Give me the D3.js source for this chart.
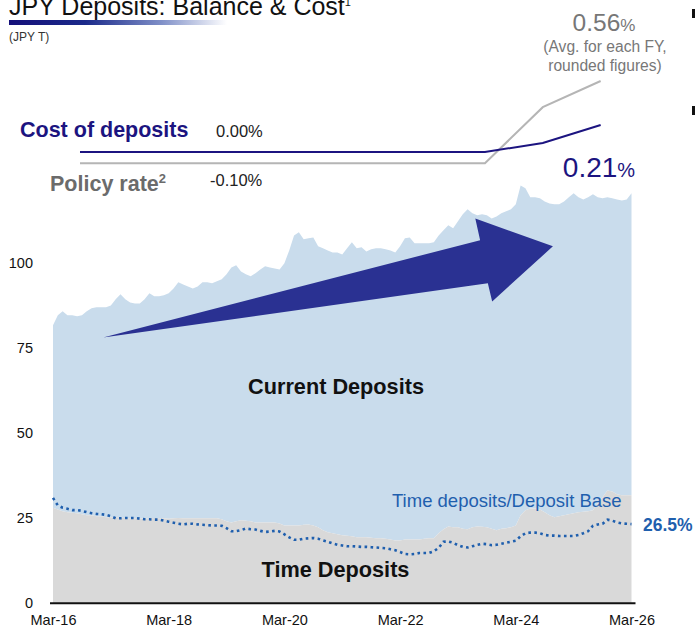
<!DOCTYPE html>
<html>
<head>
<meta charset="utf-8">
<script src="https://cdn.jsdelivr.net/npm/d3@7"></script>
<style>
  html, body { margin: 0; padding: 0; background: #fff; }
  svg { display: block; font-family: "Liberation Sans", Arial, sans-serif; }
</style>
</head>
<body>
<svg id="chart" width="695" height="628"></svg>
<script>
// Monthly balances (JPY T), Mar-16 .. Mar-26, index 0 = Mar-16
const totalDeposits = [
  81.8, 84.7, 85.9, 84.7, 84.7, 84.4, 84.7, 85.9, 86.8, 87.1, 87.1, 87.1,
  87.6, 89.4, 90.9, 89.4, 88.5, 88.2, 88.2, 89.4, 91.2, 90.3, 90.3, 90.6,
  91.2, 92.6, 94.4, 93.8, 93.2, 92.6, 93.2, 94.4, 94.4, 94.1, 94.7, 95.3,
  96.8, 98.8, 99.4, 97.6, 96.8, 96.2, 97.1, 98.2, 99.1, 98.8, 98.5, 98.2,
  100.0, 103.8, 108.2, 109.1, 107.1, 107.4, 107.6, 105.0, 104.4, 103.8, 103.2, 103.2,
  102.6, 104.4, 106.2, 104.4, 104.7, 103.5, 104.1, 104.4, 104.4, 104.1, 103.8, 103.2,
  105.0, 107.4, 107.6, 105.9, 105.9, 105.9, 105.9, 106.2, 108.2, 109.7, 111.2, 110.3,
  112.4, 114.4, 115.9, 114.7, 114.1, 114.4, 114.1, 113.2, 113.8, 114.7, 115.3, 115.9,
  117.4, 122.9, 122.1, 119.4, 119.4, 119.1, 118.2, 117.6, 117.4, 117.4, 118.2, 119.4,
  120.6, 119.4, 118.8, 119.4, 120.3, 119.4, 119.1, 119.4, 119.1, 118.8, 118.5, 118.8,
  120.6
];
const timeDeposits = [
  28.1, 27.6, 27.1, 26.8, 26.6, 26.5, 26.2, 25.9, 25.9, 25.6, 25.6, 25.3,
  25.3, 25.3, 25.3, 25.0, 25.0, 25.0, 25.0, 24.9, 25.0, 25.1, 25.0, 25.0,
  24.9, 25.0, 25.1, 25.0, 25.0, 25.0, 25.0, 25.0, 25.0, 25.0, 25.0, 24.7,
  24.1, 23.8, 24.1, 24.4, 24.3, 24.1, 23.8, 23.8, 23.8, 23.8, 23.8, 23.5,
  22.9, 22.9, 22.9, 22.9, 23.1, 23.2, 22.9, 22.4, 21.5, 20.9, 20.6, 20.3,
  20.0, 19.9, 19.7, 19.4, 19.4, 19.4, 19.3, 19.1, 19.1, 19.0, 18.8, 18.5,
  18.5, 18.8, 18.8, 18.8, 18.8, 19.0, 19.1, 19.1, 20.6, 21.8, 22.6, 22.4,
  22.4, 21.9, 21.8, 22.4, 22.6, 22.5, 22.4, 21.9, 21.5, 21.9, 22.1, 22.4,
  22.9, 25.9, 27.4, 27.9, 27.9, 27.6, 26.8, 25.9, 25.3, 25.6, 25.9, 26.2,
  26.5, 26.8, 26.9, 27.1, 27.4, 29.4, 31.2, 33.2, 32.9, 32.1, 31.8, 31.8,
  31.8
];
// Time deposits / deposit base (%)
const timeDepositRatio = [
  34.2, 32.0, 31.3, 31.0, 30.6, 30.6, 30.4, 30.0, 29.7, 29.5, 29.4, 29.2,
  28.8, 28.2, 28.2, 28.3, 28.3, 28.3, 28.1, 27.9, 27.9, 27.8, 27.8, 27.5,
  27.2, 26.9, 26.6, 26.4, 26.6, 26.6, 26.4, 26.3, 26.2, 26.1, 26.1, 26.0,
  25.3, 24.4, 24.4, 24.7, 25.2, 25.0, 24.9, 24.5, 24.2, 24.3, 24.5, 24.3,
  23.5, 22.6, 21.9, 21.9, 22.2, 22.3, 22.4, 22.2, 21.7, 21.3, 20.8, 20.4,
  20.2, 20.0, 20.0, 19.9, 19.8, 19.8, 19.7, 19.6, 19.5, 19.4, 19.1, 18.8,
  18.3, 17.7, 17.6, 17.7, 18.0, 18.0, 18.0, 18.5, 19.5, 21.3, 21.4, 21.0,
  20.3, 19.8, 19.6, 20.0, 20.4, 20.7, 20.6, 20.3, 20.4, 20.7, 21.0, 21.3,
  21.6, 22.9, 23.8, 24.0, 24.0, 23.8, 23.3, 23.1, 23.1, 23.0, 23.0, 23.0,
  23.0, 23.3, 23.8, 24.4, 26.0, 26.4, 26.6, 27.8, 27.5, 27.0, 26.7, 26.6,
  26.5
];

// Fiscal-year averages (%)
const fiscalYears = [2016, 2017, 2018, 2019, 2020, 2021, 2022, 2023, 2024, 2025];
const costOfDeposits = [0.00, 0.00, 0.00, 0.00, 0.00, 0.00, 0.00, 0.00, 0.07, 0.21];
const policyRate = [-0.10, -0.10, -0.10, -0.10, -0.10, -0.10, -0.10, -0.10, 0.35, 0.56];

const xTickMonths = [0, 24, 48, 72, 96, 120];
const xTickLabels = ["Mar-16", "Mar-18", "Mar-20", "Mar-22", "Mar-24", "Mar-26"];
const yTickValues = [0, 25, 50, 75, 100];

// Growth arrow outline in (month, JPY T) coordinates
const arrowShape = [
  [10.4, 78.2], [88.6, 106.8], [87.6, 113.2], [103.7, 105.0],
  [91.1, 88.8], [90.2, 94.1]
];

const svg = d3.select("#chart");
const navy = "#1c1480";
const grayLine = "#b5b5b5";
const blue = "#1f5fae";

const x = d3.scaleLinear().domain([0, 120]).range([53, 631.5]);
const y = d3.scaleLinear().domain([0, 125]).range([603.3, 178.3]);
// ratio series sits on its own scale, offset from the balance axis
const yRatio = d3.scaleLinear().domain([3.2, 128.2]).range([603.3, 178.3]);
const yCost = d3.scaleLinear().domain([0, 0.21]).range([152, 125]);
const yPolicy = d3.scaleLinear().domain([-0.10, 0.56]).range([163.3, 81]);
const fyMonth = fy => (fy - 2016) * 12 + 5.6;

const months = d3.range(totalDeposits.length);

// Title
const defs = svg.append("defs");
const grad = defs.append("linearGradient").attr("id", "titleBar")
  .attr("x1", "0%").attr("x2", "100%");
grad.append("stop").attr("offset", "0%").attr("stop-color", "#15107a");
grad.append("stop").attr("offset", "35%").attr("stop-color", "#1b2a8a");
grad.append("stop").attr("offset", "70%").attr("stop-color", "#8090c8");
grad.append("stop").attr("offset", "100%").attr("stop-color", "#ffffff");

const title = svg.append("text").attr("x", 9).attr("y", 15)
  .attr("font-size", 25).attr("fill", "#111");
title.append("tspan").text("JPY Deposits: Balance & Cost");
title.append("tspan").attr("font-size", 11).attr("dy", -9).text("1");
svg.append("rect").attr("x", 9).attr("y", 20).attr("width", 218).attr("height", 5)
  .attr("fill", "url(#titleBar)");
svg.append("text").attr("x", 9).attr("y", 41).attr("font-size", 12)
  .attr("fill", "#333").text("(JPY T)");

// Stacked areas
const areaTotal = d3.area()
  .x(i => x(i)).y0(i => y(timeDeposits[i])).y1(i => y(totalDeposits[i]));
const areaTime = d3.area()
  .x(i => x(i)).y0(y(0)).y1(i => y(timeDeposits[i]));
svg.append("path").datum(months).attr("d", areaTotal).attr("fill", "#c9dcec");
svg.append("path").datum(months).attr("d", areaTime).attr("fill", "#d9d9d9");

// Ratio line (dotted)
const ratioLine = d3.line().x(i => x(i)).y(i => yRatio(timeDepositRatio[i]));
svg.append("path").datum(months).attr("d", ratioLine)
  .attr("fill", "none").attr("stroke", blue).attr("stroke-width", 2.6)
  .attr("stroke-dasharray", "2.6 3.4");

// Growth arrow
svg.append("path")
  .attr("d", d3.line().x(d => x(d[0])).y(d => y(d[1]))(arrowShape) + "Z")
  .attr("fill", "#2a3192");

// Axes
const xAxis = d3.axisBottom(x).tickValues(xTickMonths)
  .tickFormat((d, i) => xTickLabels[i]).tickSize(0).tickPadding(11);
const gx = svg.append("g").attr("transform", `translate(0,${y(0)})`).call(xAxis);
gx.select(".domain").remove();
gx.selectAll("text").attr("font-size", 14.5).attr("fill", "#111")
  .attr("font-family", "Liberation Sans, Arial, sans-serif");
svg.append("line").attr("x1", x(0) - 3).attr("x2", x(120) + 4)
  .attr("y1", y(0)).attr("y2", y(0)).attr("stroke", "#111").attr("stroke-width", 2);

const yAxis = d3.axisLeft(y).tickValues(yTickValues).tickSize(0).tickPadding(0);
const gy = svg.append("g").attr("transform", "translate(33,0)").call(yAxis);
gy.select(".domain").remove();
gy.selectAll("text").attr("font-size", 14.5).attr("fill", "#111")
  .attr("font-family", "Liberation Sans, Arial, sans-serif");

// Rate lines (fiscal-year averages)
const policyPath = d3.line().x((d, i) => x(fyMonth(fiscalYears[i]))).y(d => yPolicy(d));
const costPath = d3.line().x((d, i) => x(fyMonth(fiscalYears[i]))).y(d => yCost(d));
svg.append("path").attr("d", policyPath(policyRate)).attr("fill", "none")
  .attr("stroke", grayLine).attr("stroke-width", 2);
svg.append("path").attr("d", costPath(costOfDeposits)).attr("fill", "none")
  .attr("stroke", navy).attr("stroke-width", 2);

// Labels
svg.append("text").attr("x", 20).attr("y", 137).attr("font-size", 21.5)
  .attr("font-weight", "bold").attr("fill", navy).text("Cost of deposits");
svg.append("text").attr("x", 216).attr("y", 137).attr("font-size", 16.5)
  .attr("fill", "#222").text(costOfDeposits[0].toFixed(2) + "%");
const pr = svg.append("text").attr("x", 50).attr("y", 191).attr("font-size", 21.5)
  .attr("font-weight", "bold").attr("fill", "#6b6b6b");
pr.append("tspan").text("Policy rate");
pr.append("tspan").attr("font-size", 13).attr("dy", -8).text("2");
svg.append("text").attr("x", 210).attr("y", 186).attr("font-size", 16.5)
  .attr("fill", "#222").text(policyRate[0].toFixed(2) + "%");

const last = fiscalYears.length - 1;
const pLbl = svg.append("text").attr("x", 604).attr("y", 31)
  .attr("text-anchor", "middle").attr("fill", "#777");
pLbl.append("tspan").attr("font-size", 24.5).text(policyRate[last].toFixed(2));
pLbl.append("tspan").attr("font-size", 17).text("%");
svg.append("text").attr("x", 605).attr("y", 52).attr("text-anchor", "middle")
  .attr("font-size", 15.6).attr("fill", "#777").text("(Avg. for each FY,");
svg.append("text").attr("x", 605).attr("y", 71).attr("text-anchor", "middle")
  .attr("font-size", 15.6).attr("fill", "#777").text("rounded figures)");

const cLbl = svg.append("text").attr("x", 599).attr("y", 177)
  .attr("text-anchor", "middle").attr("fill", navy);
cLbl.append("tspan").attr("font-size", 28).text(costOfDeposits[last].toFixed(2));
cLbl.append("tspan").attr("font-size", 20).text("%");

svg.append("text").attr("x", 336).attr("y", 394).attr("text-anchor", "middle")
  .attr("font-size", 21.7).attr("font-weight", "bold").attr("fill", "#111")
  .text("Current Deposits");
svg.append("text").attr("x", 335.5).attr("y", 577).attr("text-anchor", "middle")
  .attr("font-size", 21.7).attr("font-weight", "bold").attr("fill", "#111")
  .text("Time Deposits");
svg.append("text").attr("x", 392).attr("y", 507).attr("font-size", 18.5)
  .attr("fill", blue).text("Time deposits/Deposit Base");
svg.append("text").attr("x", 643).attr("y", 531).attr("font-size", 17.5)
  .attr("font-weight", "bold").attr("fill", blue)
  .text(timeDepositRatio[timeDepositRatio.length - 1].toFixed(1) + "%");

// Edge markers of the adjacent panel
svg.append("rect").attr("x", 692).attr("y", 9).attr("width", 4).attr("height", 9).attr("fill", "#111");
svg.append("rect").attr("x", 692).attr("y", 106).attr("width", 4).attr("height", 9).attr("fill", "#111");
</script>
</body>
</html>
